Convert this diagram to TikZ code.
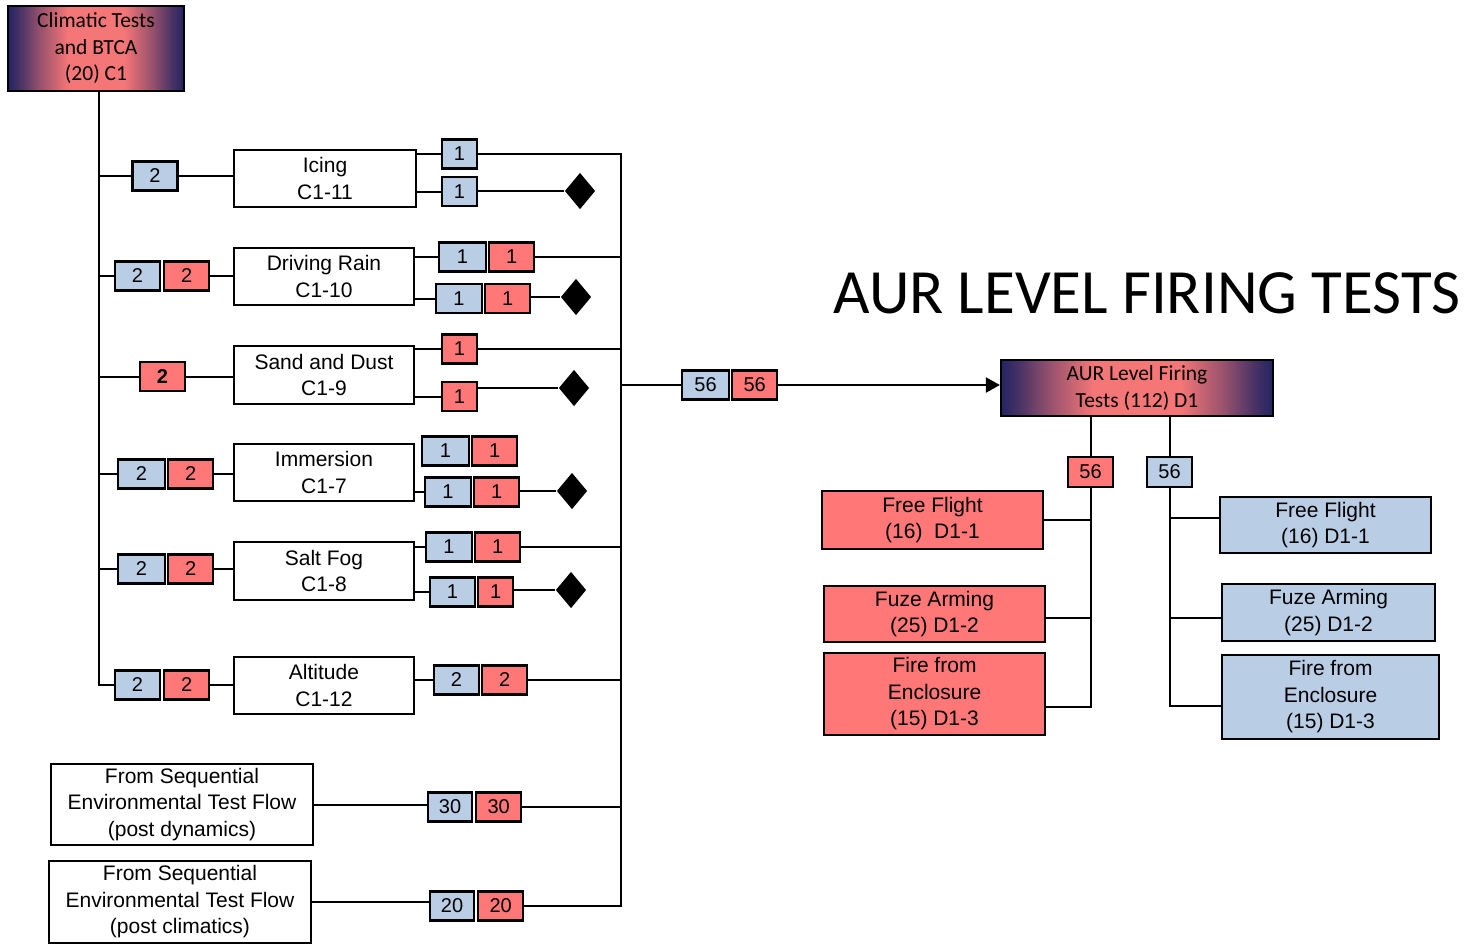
\documentclass[tikz,border=0pt]{standalone}
\usepackage{fontspec}
\setmainfont{Liberation Sans}
\newfontfamily\calfont{Carlito}
\usepackage{tikz}
\usetikzlibrary{arrows.meta,positioning,shapes.geometric}
\definecolor{qblue}{RGB}{185,205,229}
\definecolor{qred}{RGB}{255,119,119}
\definecolor{qnavy}{RGB}{36,36,98}
\definecolor{qsalmon}{RGB}{244,118,118}
\pgfdeclarehorizontalshading{glow}{100bp}{color(0bp)=(qnavy); color(25bp)=(qnavy);
  color(28bp)=(qnavy!85!qsalmon); color(34bp)=(qnavy!45!qsalmon); color(42bp)=(qsalmon);
  color(58bp)=(qsalmon); color(66bp)=(qnavy!45!qsalmon); color(72bp)=(qnavy!85!qsalmon);
  color(75bp)=(qnavy); color(100bp)=(qnavy)}

\begin{document}
\begin{tikzpicture}[x=1pt, y=-1pt, line width=2pt,
  box/.style = {draw, line width=2.2pt, fill=white, align=center, inner sep=0pt,
    font=\fontsize{21}{26.5}\selectfont},
  grad/.style = {draw, line width=2.2pt, shading=glow, align=center, inner sep=0pt,
    font=\calfont\fontsize{21.5}{26.5}\selectfont},
  cnt/.style = {draw, line width=2.2pt, inner sep=0pt, minimum height=29pt,
    minimum width=45pt, font=\fontsize{20}{24}\selectfont},
  cb/.style = {cnt, fill=qblue},
  cr/.style = {cnt, fill=qred},
  gem/.style = {diamond, fill=black, inner sep=0pt, minimum width=31pt, minimum height=37pt},
  arr/.style = {-{Triangle[length=14pt, width=15pt]}},
]
\useasboundingbox (0,0) rectangle (1471,943);

% climatic tests
\node[grad, minimum width=176pt, minimum height=85pt] (clim) at (96,48.5)
  {Climatic Tests\\and BTCA\\(20) C1};
\coordinate (trunk) at ([xshift=3pt]clim.south);
\coordinate (bus) at (621,0);

% icing
\node[cb] (ic2) at (155,176) {2};
\node[box, minimum width=182pt, minimum height=57pt] (ic) at (325,178.5) {Icing\\C1-11};
\node[cb, minimum width=35pt] (ic1) at (459.5,154) {1};
\node[cb, minimum width=35pt] (ic1x) at (459.5,191.5) {1};
\node[gem] (icg) at (580,191) {};

% driving rain
\node[cb] (dr2) at (137.5,276) {2};
\node[cr, right=2pt of dr2] (dr2r) {2};
\node[box, minimum width=180pt, minimum height=57pt] (dr) at (324,276.5) {Driving Rain\\C1-10};
\node[cb, minimum width=47pt] (dr1) at (462.5,257) {1};
\node[cr, right=1pt of dr1] (dr1r) {1};
\node[cb, minimum width=46pt] (dr1x) at (459,298.5) {1};
\node[cr, right=1pt of dr1x] (dr1xr) {1};
\node[gem] (drg) at (576,297) {};

% sand and dust
\node[cr] (sd2) at (162.5,376.5) {\bfseries 2};
\node[box, minimum width=180pt, minimum height=58pt] (sd) at (324,375) {Sand and Dust\\C1-9};
\node[cr, minimum width=35pt] (sd1) at (459.5,349) {1};
\node[cr, minimum width=35pt] (sd1x) at (459.5,396.5) {1};
\node[gem] (sdg) at (574,388) {};

% immersion
\node[cb, minimum width=47pt] (im2) at (141.5,474) {2};
\node[cr, right=1pt of im2] (im2r) {2};
\node[box, minimum width=180pt, minimum height=57pt] (im) at (324,472.5) {Immersion\\C1-7};
\node[cb, minimum width=47pt] (im1) at (445.5,451) {1};
\node[cr, right=1pt of im1] (im1r) {1};
\node[cb, minimum width=46pt] (im1x) at (448,492) {1};
\node[cr, right=1pt of im1x] (im1xr) {1};
\node[gem] (img) at (572,491) {};

% salt fog
\node[cb, minimum width=47pt] (sf2) at (141.5,569) {2};
\node[cr, right=1pt of sf2] (sf2r) {2};
\node[box, minimum width=180pt, minimum height=58pt] (sf) at (324,571) {Salt Fog\\C1-8};
\node[cb, minimum width=46pt] (sf1) at (449,547) {1};
\node[cr, right=1pt of sf1] (sf1r) {1};
\node[cb, minimum width=45pt] (sf1x) at (452.5,592) {1};
\node[cr, minimum width=35pt, right=1pt of sf1x] (sf1xr) {1};
\node[gem] (sfg) at (571,590) {};

% altitude
\node[cb] (al2) at (137.5,685) {2};
\node[cr, right=2pt of al2] (al2r) {2};
\node[box, minimum width=180pt, minimum height=57pt] (al) at (324,685.5) {Altitude\\C1-12};
\node[cb] (al1) at (456.5,680) {2};
\node[cr, right=1pt of al1] (al1r) {2};

% sequential flows
\node[box, minimum width=262pt, minimum height=81pt] (sq1) at (182,804.5)
  {From Sequential\\Environmental Test Flow\\(post dynamics)};
\node[cb, minimum width=44pt] (sq1b) at (450,807) {30};
\node[cr, right=2pt of sq1b] (sq1r) {30};
\node[box, minimum width=262pt, minimum height=82pt] (sq2) at (180,902) {From Sequential\\Environmental Test Flow\\(post climatics)};
\node[cb, minimum width=44pt] (sq2b) at (452,906) {20};
\node[cr, right=2pt of sq2b] (sq2r) {20};

% AUR level
\node[font=\calfont\fontsize{63}{70}\selectfont, inner sep=0pt] (title) at (1147,293)
  {AUR LEVEL FIRING TESTS};
\node[cb, minimum width=47pt] (n56) at (705.5,385) {56};
\node[cr, right=1pt of n56] (n56r) {56};
\node[grad, minimum width=272pt, minimum height=56pt] (aur) at (1137,388)
  {AUR Level Firing\\Tests (112) D1};
\node[cr, minimum height=30pt] (r56) at (1090.5,472) {56};
\node[cb, minimum height=30pt] (b56) at (1169.5,472) {56};
\node[box, fill=qred, minimum width=221pt, minimum height=58pt] (rf1) at (932.5,520) {Free Flight\\(16)\ \ D1-1};
\node[box, fill=qred, minimum width=221pt, minimum height=56pt] (rf2) at (934.5,614) {Fuze Arming\\(25) D1-2};
\node[box, fill=qred, minimum width=221pt, minimum height=82pt] (rf3) at (934.5,694) {Fire from\\Enclosure\\(15) D1-3};
\node[box, fill=qblue, minimum width=211pt, minimum height=56pt] (bf1) at (1325.5,525) {Free Flight\\(16) D1-1};
\node[box, fill=qblue, minimum width=213pt, minimum height=57pt] (bf2) at (1328.5,612.5) {Fuze Arming\\(25) D1-2};
\node[box, fill=qblue, minimum width=217pt, minimum height=84pt] (bf3) at (1330.5,697) {Fire from\\Enclosure\\(15) D1-3};

% left trunk and branches
\draw (trunk) |- (al2.west);
\foreach \n in {ic2,dr2,sd2,im2,sf2}
  \draw (\n.west) -- (\n.west -| trunk);
\draw (ic2.east) -- (ic2.east -| ic.west);
\draw (dr2r.east) -- (dr2r.east -| dr.west);
\draw (sd2.east) -- (sd2.east -| sd.west);
\draw (im2r.east) -- (im2r.east -| im.west);
\draw (sf2r.east) -- (sf2r.east -| sf.west);
\draw (al2r.east) -- (al2r.east -| al.west);

% outputs
\draw (ic1.west) -- (ic1.west -| ic.east);
\draw (ic1x.west) -- (ic1x.west -| ic.east);
\draw (dr1.west) -- (dr1.west -| dr.east);
\draw (dr1x.west) -- (dr1x.west -| dr.east);
\draw (sd1.west) -- (sd1.west -| sd.east);
\draw (sd1x.west) -- (sd1x.west -| sd.east);
\draw (im1x.west) -- (im1x.west -| im.east);
\draw (sf1.west) -- (sf1.west -| sf.east);
\draw (sf1x.west) -- (sf1x.west -| sf.east);
\draw (al1.west) -- (al1.west -| al.east);
\draw (icg) -- (icg -| ic1x.east);
\draw (drg) -- (drg -| dr1xr.east);
\draw (sdg) -- (sdg -| sd1x.east);
\draw (img) -- (img -| im1xr.east);
\draw (sfg) -- (sfg -| sf1xr.east);
\draw (sq1.east) -- (sq1.east -| sq1b.west);
\draw (sq2.east) -- (sq2.east -| sq2b.west);

% right bus
\draw (ic1.east) -| (bus |- sq2r.east) -- (sq2r.east);
\draw (dr1r.east) -- (dr1r.east -| bus);
\draw (sd1.east) -- (sd1.east -| bus);
\draw (sf1r.east) -- (sf1r.east -| bus);
\draw (al1r.east) -- (al1r.east -| bus);
\draw (sq1r.east) -- (sq1r.east -| bus);
\draw (n56.west -| bus) -- (n56.west);
\draw[arr] (n56r.east) -- (n56r.east -| aur.west);

% AUR tree
\draw (aur.south -| r56) -- (r56);
\draw (aur.south -| b56) -- (b56);
\draw (r56.south) |- ([yshift=-13pt]rf3.east);
\draw (rf1.east) -- (rf1.east -| r56);
\draw ([yshift=-4pt]rf2.east) -- ([yshift=-4pt]rf2.east -| r56);
\draw (b56.south) |- ([yshift=-9pt]bf3.west);
\draw ([yshift=7pt]bf1.west) -- ([yshift=7pt]bf1.west -| b56);
\draw ([yshift=-5pt]bf2.west) -- ([yshift=-5pt]bf2.west -| b56);
\end{tikzpicture}
\end{document}
